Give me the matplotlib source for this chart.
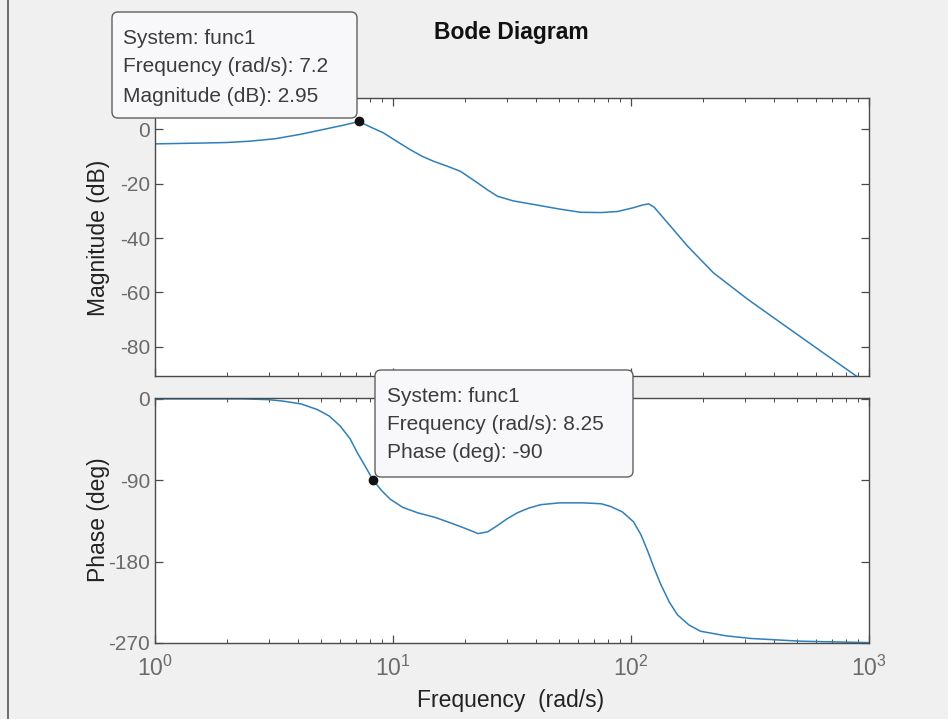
import numpy as np
import matplotlib.pyplot as plt
from matplotlib.patches import FancyBboxPatch
from matplotlib.lines import Line2D

plt.rcParams['font.family'] = ['Liberation Sans', 'DejaVu Sans']
plt.rcParams['mathtext.fontset'] = 'custom'
plt.rcParams['mathtext.rm'] = 'Liberation Sans'

mag_freq = [1.0, 1.55, 2.0, 2.51, 3.2, 4.07, 5.09, 6.2, 7.2, 8.0, 9.1, 10.3, 11.8,
            13.2, 14.8, 17.0, 19.2, 22.6, 25.0, 27.5, 32.0, 38.9, 50.0, 61.4, 75.0,
            87.9, 102.5, 112, 118.6, 125, 142.6, 173, 222, 310, 426, 586, 864, 1000]
mag_db = [-5.3, -5.0, -4.8, -4.3, -3.4, -1.8, 0.0, 1.6, 2.95, 1.0, -1.2, -4.2, -7.4,
          -9.8, -11.7, -13.6, -15.4, -19.6, -22.3, -24.6, -26.3, -27.6, -29.3, -30.5, -30.6,
          -30.2, -28.8, -27.8, -27.4, -28.6, -34.4, -43.0, -52.8, -62.6, -71.2, -79.8, -90.2,
          -94.0]

ph_freq = [1.0, 2.34, 3.0, 3.46, 4.1, 4.8, 5.4, 6.0, 6.6, 7.08, 7.7, 8.25, 9.0, 9.74,
           11.0, 12.7, 15.0, 17.4, 20.0, 22.8, 25.0, 27.5, 30.0, 33.3, 37.0, 41.7, 50.0,
           63.2, 75.0, 82.1, 92, 102.5, 110, 117.4, 125, 133.3, 145, 157, 175, 196, 250,
           319, 517, 1000]
ph_deg = [0, 0, -0.8, -2.5, -5.5, -11.7, -19, -30, -44, -59.5, -76, -90, -102, -111,
          -120, -126, -131, -137, -143, -149, -147, -140, -133, -126, -121, -117, -115,
          -115, -116, -119, -125, -136, -150, -168, -187, -205, -225, -239, -250, -257, -262,
          -265, -268, -269.6]

# puntos marcados con data tips
tip_mag = (7.2, 2.95)
tip_ph = (8.25, -90)

mag_ticks = [0, -20, -40, -60, -80]
ph_ticks = [0, -90, -180, -270]

W, H = 948, 719
BG = '#f0f0f0'
LINE = '#2f7fba'
AX = '#4a4a4a'
TICKLBL = '#6a6a6a'

fig = plt.figure(figsize=(W / 100, H / 100), dpi=100, facecolor=BG)
ax_mag = fig.add_axes([155 / W, 1 - 376 / H, (869 - 155) / W, (376 - 98) / H])
ax_ph = fig.add_axes([155 / W, 1 - 643 / H, (869 - 155) / W, (643 - 398) / H])

ax_mag.plot(mag_freq, mag_db, color=LINE, lw=1.1)
ax_ph.plot(ph_freq, ph_deg, color=LINE, lw=1.1)

ax_mag.plot(*tip_mag, 'o', color='#111111', ms=6, zorder=10, clip_on=False)
ax_ph.plot(*tip_ph, 'o', color='#111111', ms=6, zorder=10, clip_on=False)

for ax in (ax_mag, ax_ph):
    ax.set_xscale('log')
    ax.set_xlim(1, 1000)
    ax.set_facecolor('white')
    for s in ax.spines.values():
        s.set_color(AX)
        s.set_linewidth(1.0)
    ax.tick_params(which='both', direction='in', top=True, right=True,
                   color=AX, labelcolor=TICKLBL, labelsize=15)
    ax.tick_params(which='major', length=6, width=0.9)
    ax.tick_params(which='minor', length=3, width=0.7)

ax_mag.set_ylim(-90.8, 11.6)
ax_mag.set_yticks(mag_ticks)
ax_mag.set_yticklabels([str(t) for t in mag_ticks])
ax_mag.tick_params(axis='x', which='both', labelbottom=False)

ax_ph.set_ylim(-270, 1)
ax_ph.set_yticks(ph_ticks)
ax_ph.set_yticklabels([str(t) for t in ph_ticks])
ax_ph.set_xticks([1, 10, 100, 1000])
ax_ph.set_xticklabels([r'$10^{0}$', r'$10^{1}$', r'$10^{2}$', r'$10^{3}$'])
ax_ph.tick_params(axis='x', pad=9, labelsize=16.5)

fig.text(511 / W, 1 - 32 / H, 'Bode Diagram', ha='center', va='center',
         fontsize=16.5, fontweight='bold', color='#111111')
fig.text(98 / W, 1 - 238 / H, 'Magnitude (dB)', rotation=90, ha='center',
         va='center', fontsize=16.5, color='#222222')
fig.text(98 / W, 1 - 520 / H, 'Phase (deg)', rotation=90, ha='center',
         va='center', fontsize=16.5, color='#222222')
fig.text(511 / W, 1 - 700 / H, 'Frequency  (rad/s)', ha='center', va='center',
         fontsize=16.5, color='#222222')

# borde de la ventana a la izquierda
fig.add_artist(Line2D([8 / W, 8 / W], [0, 1], transform=fig.transFigure,
                      color='#555555', lw=1.2))

tr = fig.dpi_scale_trans


def datatip(x0, y0, x1, y1, lines, tx, tys):
    box = FancyBboxPatch((x0 / 100, (H - y1) / 100), (x1 - x0) / 100, (y1 - y0) / 100,
                         boxstyle='round,pad=0,rounding_size=0.06', transform=tr,
                         facecolor='#f8f8fb', edgecolor='#606060', lw=1.0, zorder=20)
    fig.add_artist(box)
    for txt, ty in zip(lines, tys):
        fig.text(tx / 100, (H - ty) / 100, txt, transform=tr, ha='left',
                 va='center', fontsize=15, color='#3c3c3c', zorder=21)


datatip(112, 12, 357, 118,
        ['System: func1', f'Frequency (rad/s): {tip_mag[0]}',
         f'Magnitude (dB): {tip_mag[1]}'], 123, [38, 67, 97])
datatip(375, 370, 633, 477,
        ['System: func1', f'Frequency (rad/s): {tip_ph[0]}',
         f'Phase (deg): {tip_ph[1]}'], 387, [397, 425, 453])

fig.savefig('out.png', dpi=100, facecolor=BG)
